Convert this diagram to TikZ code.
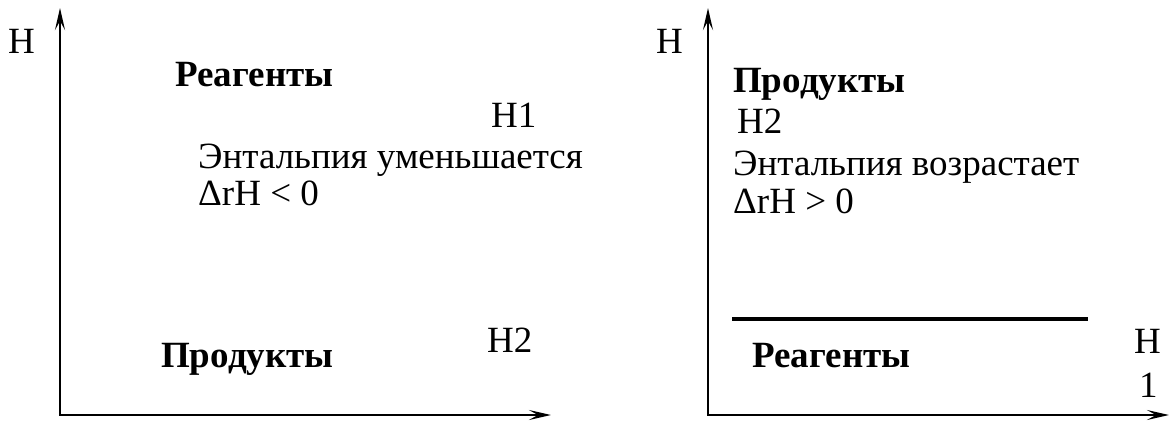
\documentclass[tikz,border=0pt]{standalone}
\usepackage{fontspec}
\setmainfont{Liberation Serif}
\usetikzlibrary{arrows.meta}
\begin{document}
\begin{tikzpicture}[x=1pt,y=-1pt,
  lbl/.style={anchor=base west,inner sep=0pt,font=\fontsize{37}{44}\selectfont},
  bl/.style={anchor=base west,inner sep=0pt,font=\fontsize{37}{44}\selectfont\bfseries},
  axis/.style={line width=2.6pt,{Stealth[length=22pt,width=10pt,inset=9pt]}-{Stealth[length=22pt,width=10pt,inset=9pt]}},
  level/.style={line width=4.2pt}]
\useasboundingbox (0,0) rectangle (1171,421);
% left diagram
\coordinate (ly) at (60,8);
\coordinate (lo) at (60,415);
\coordinate (lx) at (551,415);
\draw[axis] (ly) -- (lo) -- (lx);
\node[lbl] (lH) at (8,53) {H};
\node[bl] (lreag) at (175,86) {Реагенты};
\node[lbl] (lH1) at (491,127) {H1};
\node[lbl] (lent) at (198,168) {Энтальпия уменьшается};
\node[lbl] (ldh) at (198,205) {ΔrH < 0};
\node[lbl] (lH2) at (487,352) {H2};
\node[bl] (lprod) at (161,367) {Продукты};
% right diagram
\coordinate (ry) at (708,8);
\coordinate (ro) at (708,415);
\coordinate (rx) at (1169,415);
\draw[axis] (ry) -- (ro) -- (rx);
\node[lbl] (rH) at (656,53) {H};
\node[bl] (rprod) at (733,92) {Продукты};
\node[lbl] (rH2) at (737,133) {H2};
\node[lbl] (rent) at (733,175) {Энтальпия возрастает};
\node[lbl] (rdh) at (733,213) {ΔrH > 0};
\coordinate (la) at (732,319);
\coordinate (lb) at (1088,319);
\draw[level] (la) -- (lb);
\node[bl] (rreag) at (752,367) {Реагенты};
\node[lbl] (rH1a) at (1134,353) {H};
\node[lbl] (rH1b) at (1139,397) {1};
\end{tikzpicture}
\end{document}
